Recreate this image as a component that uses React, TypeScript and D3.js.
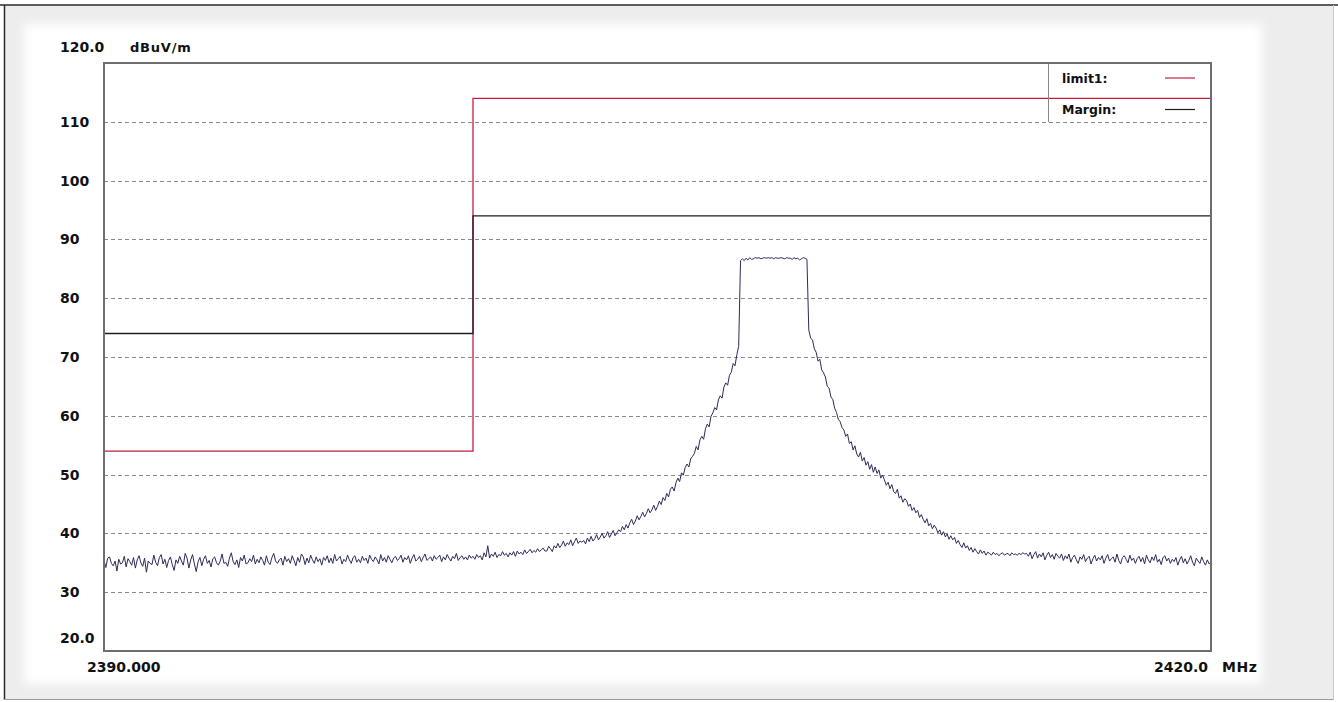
import React from "react";
import * as d3 from "d3";

// ---- Data ----
const yTicks = [30, 40, 50, 60, 70, 80, 90, 100, 110];
const yEndLabels = ["120.0", "20.0"];
const xLabels = ["2390.000", "2420.0"];
const unitY = "dBuV/m";
const unitX = "MHz";

const sweepStart = 2390.0;
const sweepStep = 0.05;

// measured trace, one value per 0.05 MHz from 2390.00 to 2420.00 (dBuV/m); one row = 1 MHz
const traceValues = [
  35.4, 34.2, 35.8, 36.0, 34.9, 34.5, 35.3, 33.6, 35.6, 34.8, 35.0, 36.1, 34.3, 35.7, 35.2, 34.6, 35.9, 34.1, 35.5, 36.2, // 2390
  35.0, 34.4, 35.8, 33.4, 35.3, 34.9, 34.7, 36.3, 35.1, 34.5, 35.9, 36.4, 34.8, 35.6, 34.2, 35.4, 36.0, 34.7, 33.7, 35.5, // 2391
  34.9, 36.1, 35.3, 34.6, 36.6, 35.8, 34.1, 35.5, 36.4, 34.8, 33.5, 35.2, 35.9, 34.5, 35.6, 36.2, 34.9, 35.4, 34.3, 35.7, // 2392
  36.0, 35.0, 34.6, 35.3, 36.5, 34.9, 35.1, 34.4, 35.8, 36.7, 35.2, 34.7, 35.5, 34.2, 35.9, 35.3, 36.3, 34.8, 35.0, 35.7, // 2393
  35.2, 36.3, 34.8, 35.6, 35.0, 36.0, 35.4, 34.6, 36.2, 35.1, 34.7, 35.9, 36.6, 35.3, 34.9, 35.5, 35.8, 34.6, 36.1, 35.2, // 2394
  35.7, 34.9, 36.2, 35.4, 34.5, 35.9, 35.1, 36.5, 36.0, 34.7, 35.8, 35.0, 36.3, 35.5, 34.9, 36.0, 35.2, 35.7, 34.6, 35.9, // 2395
  35.4, 36.2, 35.0, 35.8, 34.9, 36.4, 35.3, 35.7, 36.1, 34.8, 35.6, 35.2, 36.3, 35.5, 34.9, 35.9, 36.2, 35.1, 35.6, 35.0, // 2396
  36.1, 35.4, 35.8, 34.9, 36.3, 35.6, 35.2, 36.0, 35.5, 34.8, 36.4, 35.3, 35.9, 35.1, 36.2, 35.6, 35.0, 35.8, 36.1, 35.4, // 2397
  35.7, 36.3, 35.1, 35.9, 35.5, 36.2, 34.9, 35.8, 36.4, 35.3, 35.6, 36.1, 35.2, 35.9, 36.5, 35.4, 35.7, 36.0, 35.3, 36.2, // 2398
  35.6, 35.9, 36.3, 35.2, 36.0, 35.5, 36.4, 35.8, 35.3, 36.1, 35.7, 36.6, 35.4, 35.9, 36.2, 35.6, 36.0, 35.5, 36.3, 35.8, // 2399
  36.1, 35.6, 36.4, 35.9, 36.2, 35.5, 36.7, 36.0, 37.9, 35.8, 36.5, 36.1, 36.8, 35.9, 36.4, 36.2, 36.9, 36.3, 36.6, 36.0, // 2400
  36.7, 36.3, 36.9, 36.1, 37.0, 36.5, 36.8, 36.4, 37.2, 36.6, 36.9, 37.3, 36.7, 37.1, 36.8, 37.4, 36.9, 37.2, 37.5, 37.0, // 2401
  37.0, 37.8, 37.4, 36.9, 37.9, 37.5, 38.3, 37.6, 38.0, 38.7, 37.8, 38.4, 38.1, 38.9, 37.9, 38.6, 39.2, 38.3, 38.7, 38.5, // 2402
  38.8, 38.2, 39.2, 38.6, 39.5, 38.7, 39.1, 39.8, 38.9, 39.4, 40.0, 39.2, 39.6, 40.3, 39.3, 39.9, 40.5, 39.6, 40.1, 40.6, // 2403
  40.3, 41.2, 40.6, 41.5, 40.9, 41.8, 42.4, 41.5, 42.1, 43.0, 42.3, 42.9, 43.6, 42.8, 43.4, 44.2, 43.5, 44.0, 44.8, 43.9, // 2404
  44.6, 45.5, 44.9, 46.1, 45.6, 46.8, 46.2, 47.5, 47.9, 47.2, 48.6, 49.4, 48.8, 50.3, 49.9, 51.2, 51.8, 51.3, 52.7, 53.1, // 2405
  53.6, 54.8, 54.2, 55.9, 56.5, 56.0, 57.8, 58.6, 58.1, 59.9, 60.5, 61.4, 61.0, 62.7, 63.4, 63.0, 64.9, 65.6, 65.2, 66.9, // 2406
  67.4, 68.9, 68.5, 70.4, 71.8, 86.4, 86.7, 86.4, 86.8, 86.5, 86.9, 86.6, 86.7, 86.9, 86.8, 86.9, 86.7, 86.8, 86.9, 86.8, // 2407
  86.9, 86.8, 86.9, 86.7, 86.9, 86.8, 86.8, 86.9, 86.8, 86.7, 86.9, 86.8, 86.8, 86.6, 86.9, 86.7, 86.8, 86.5, 86.7, 86.9, // 2408
  86.8, 86.6, 74.6, 73.2, 72.9, 71.4, 70.8, 69.3, 69.6, 67.8, 67.3, 66.6, 65.0, 64.7, 63.2, 62.8, 61.3, 60.6, 59.4, 59.0, // 2409
  58.0, 57.6, 56.5, 56.9, 55.3, 55.6, 54.2, 54.9, 53.5, 53.0, 53.8, 52.3, 52.9, 51.6, 52.2, 50.9, 51.7, 50.4, 51.3, 50.2, // 2410
  50.8, 49.4, 49.9, 49.1, 48.2, 48.7, 47.6, 48.3, 47.1, 46.8, 47.5, 46.0, 46.4, 45.3, 45.9, 45.6, 44.6, 45.0, 43.9, 44.4, // 2411
  43.5, 43.9, 42.7, 43.2, 42.4, 41.8, 42.5, 41.3, 41.7, 40.8, 41.4, 40.9, 40.1, 40.6, 39.7, 40.3, 39.4, 39.9, 39.0, 39.6, // 2412
  38.9, 39.3, 38.3, 38.8, 38.1, 37.6, 38.4, 37.5, 37.9, 37.1, 37.6, 36.8, 37.4, 36.9, 36.5, 37.2, 36.6, 37.0, 36.3, 36.8, // 2413
  36.6, 36.3, 36.8, 36.4, 36.6, 36.2, 36.5, 36.7, 36.3, 36.5, 36.6, 36.2, 36.7, 36.4, 36.5, 36.3, 36.6, 36.4, 36.7, 36.5, // 2414
  36.6, 36.1, 36.8, 35.7, 36.4, 36.9, 35.8, 36.5, 36.0, 36.7, 35.5, 36.3, 36.8, 35.9, 36.4, 35.6, 36.6, 36.1, 35.8, 36.5, // 2415
  35.4, 36.2, 35.7, 36.5, 35.1, 35.9, 36.3, 35.5, 34.9, 36.0, 35.6, 36.4, 35.2, 35.8, 36.1, 34.8, 35.7, 36.3, 35.3, 35.9, // 2416
  35.5, 36.2, 34.9, 35.8, 36.4, 35.3, 35.7, 36.0, 35.1, 36.5, 35.4, 34.8, 35.9, 36.2, 35.6, 35.0, 36.3, 35.4, 35.8, 34.9, // 2417
  35.7, 36.1, 35.2, 35.9, 34.8, 36.3, 35.5, 35.0, 36.0, 35.4, 36.4, 35.1, 35.6, 34.7, 35.9, 36.2, 35.3, 35.8, 34.9, 35.6, // 2418
  35.2, 35.9, 34.6, 35.5, 36.1, 35.0, 35.7, 34.8, 35.4, 36.2, 35.1, 34.5, 35.8, 35.3, 34.9, 36.0, 35.2, 34.6, 35.5, 34.8, // 2419
  35.1, // 2420
];

// limit lines (step functions)
const limit1Freq = [2390, 2400, 2400, 2420];
const limit1Level = [54, 54, 114, 114];
const marginFreq = [2390, 2400, 2400, 2420];
const marginLevel = [74, 74, 94, 94];

const legendNames = ["limit1:", "Margin:"];

// ---- Styles ----
const W = 1338;
const H = 702;
const FONT = "'DejaVu Sans', Arial, sans-serif";
const RED = "#c4203e";
const TRACE = "#2c2c58";
const BLACK = "#1e1e1e";

export default function App() {
  const x = d3.scaleLinear().domain([2390, 2420]).range([104, 1211]);
  const y = d3.scaleLinear().domain([20, 120]).range([651, 63]);

  const trace = traceValues.map((v, i) => [sweepStart + i * sweepStep, v] as [number, number]);
  const line = d3
    .line<[number, number]>()
    .x((d) => x(d[0]))
    .y((d) => y(d[1]));

  const limitPts = limit1Freq.map((f, i) => [f, limit1Level[i]] as [number, number]);
  const marginPts = marginFreq.map((f, i) => [f, marginLevel[i]] as [number, number]);

  const [x0, x1] = x.range();
  const [yb, yt] = y.range();

  return (
    <svg
      width={W}
      height={H}
      style={{ position: "fixed", left: 0, top: 0, display: "block" }}
    >
      <defs>
        <filter id="soft" x="-5%" y="-5%" width="110%" height="110%">
          <feGaussianBlur stdDeviation="5" />
        </filter>
      </defs>
      <rect x={0} y={0} width={W} height={H} fill="#ffffff" />
      <rect x={4} y={5} width={1329} height={694} fill="#ededed" />
      <rect x={24} y={24} width={1238} height={660} fill="#ffffff" filter="url(#soft)" />
      {/* outer frame */}
      <line x1={0} y1={5} x2={W} y2={5} stroke="#2a2a2a" strokeWidth={1.5} />
      <line x1={4.5} y1={5} x2={4.5} y2={700} stroke="#2a2a2a" strokeWidth={1.5} />
      <line x1={4} y1={699.5} x2={1334} y2={699.5} stroke="#9a9a9a" strokeWidth={1} />
      <line x1={1333.5} y1={5} x2={1333.5} y2={700} stroke="#c8c8c8" strokeWidth={1} />

      {/* plot area */}
      <rect x={x0} y={yt} width={x1 - x0} height={yb - yt} fill="#ffffff" />

      {/* grid */}
      {yTicks.map((t) => (
        <line
          key={t}
          x1={x0}
          x2={x1}
          y1={Math.round(y(t)) + 0.5}
          y2={Math.round(y(t)) + 0.5}
          stroke="#8a8a8a"
          strokeWidth={1}
          strokeDasharray="4,3"
        />
      ))}

      {/* limit and margin */}
      <path d={line(limitPts) || ""} fill="none" stroke={RED} strokeWidth={1.3} />
      <path d={line(marginPts) || ""} fill="none" stroke={BLACK} strokeWidth={1.3} />

      {/* trace */}
      <path d={line(trace) || ""} fill="none" stroke={TRACE} strokeWidth={1} strokeLinejoin="round" />

      {/* legend */}
      <line x1={1048.5} y1={yt} x2={1048.5} y2={122} stroke="#8a8a8a" strokeWidth={1} />
      <text x={1062} y={83} fontFamily={FONT} fontWeight="bold" fontSize={12.5} fill="#111">
        {legendNames[0]}
      </text>
      <line x1={1165} x2={1195} y1={78} y2={78} stroke={RED} strokeWidth={1.2} />
      <text x={1062} y={114} fontFamily={FONT} fontWeight="bold" fontSize={12.5} fill="#111">
        {legendNames[1]}
      </text>
      <line x1={1165} x2={1195} y1={109.5} y2={109.5} stroke={BLACK} strokeWidth={1.2} />

      {/* plot frame */}
      <rect
        x={x0}
        y={yt}
        width={x1 - x0}
        height={yb - yt}
        fill="none"
        stroke="#6e6e6e"
        strokeWidth={2}
      />

      {/* y tick labels */}
      {yTicks.map((t) => (
        <text
          key={t}
          x={60}
          y={y(t) + 5}
          fontFamily={FONT}
          fontWeight="bold"
          fontSize={14}
          fill="#111"
        >
          {String(t)}
        </text>
      ))}
      <text x={60} y={yt - 11} fontFamily={FONT} fontWeight="bold" fontSize={14} fill="#111">
        {yEndLabels[0]}
      </text>
      <text x={130} y={yt - 11} fontFamily={FONT} fontWeight="bold" fontSize={13} fill="#111" letterSpacing={0.8}>
        {unitY}
      </text>
      <text x={60} y={yb - 8} fontFamily={FONT} fontWeight="bold" fontSize={14} fill="#111">
        {yEndLabels[1]}
      </text>

      {/* x labels */}
      <text x={87} y={672} fontFamily={FONT} fontWeight="bold" fontSize={14} fill="#111">
        {xLabels[0]}
      </text>
      <text x={1208} y={672} textAnchor="end" fontFamily={FONT} fontWeight="bold" fontSize={14} fill="#111">
        {xLabels[1]}
      </text>
      <text x={1222} y={672} fontFamily={FONT} fontWeight="bold" fontSize={14} fill="#111" letterSpacing={0.5}>
        {unitX}
      </text>
    </svg>
  );
}
